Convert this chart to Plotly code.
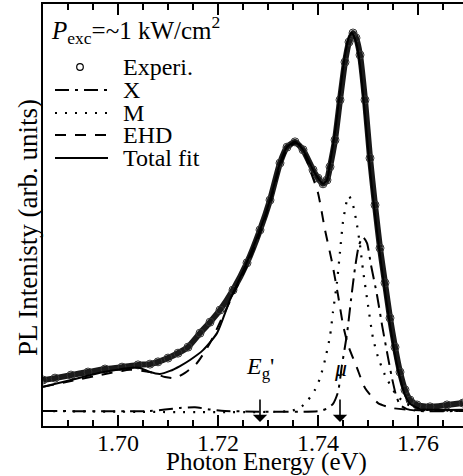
import plotly.graph_objects as go

# ---- data (energy in eV, intensity normalised to main peak) ----
exp_E = [1.6850, 1.6874, 1.6906, 1.6940, 1.6974, 1.7008, 1.7040, 1.7064, 1.7080, 1.7100,
         1.7120, 1.7140, 1.7164, 1.7184, 1.7204, 1.7230, 1.7258, 1.7284, 1.7304, 1.7324,
         1.7338, 1.7354, 1.7370, 1.7390, 1.7400, 1.7410, 1.7418, 1.7424, 1.7434, 1.7444,
         1.7454, 1.7462, 1.7470, 1.7476, 1.7484, 1.7494, 1.7504, 1.7514, 1.7524, 1.7534,
         1.7544, 1.7554, 1.7564, 1.7574, 1.7584, 1.7598, 1.7624, 1.7658, 1.7690]
exp_I = [0.082, 0.087, 0.095, 0.103, 0.111, 0.116, 0.122, 0.124, 0.130, 0.140,
         0.153, 0.169, 0.206, 0.235, 0.267, 0.320, 0.392, 0.479, 0.558, 0.656,
         0.698, 0.712, 0.691, 0.638, 0.616, 0.601, 0.611, 0.646, 0.717, 0.823,
         0.923, 0.976, 1.000, 0.987, 0.942, 0.823, 0.669, 0.545, 0.431, 0.339,
         0.246, 0.169, 0.103, 0.056, 0.029, 0.016, 0.011, 0.016, 0.021]

fit_E = [1.6850, 1.6906, 1.6964, 1.7024, 1.7044, 1.7064, 1.7084, 1.7104, 1.7124, 1.7144,
         1.7170, 1.7198, 1.7224, 1.7244, 1.7264, 1.7284, 1.7304, 1.7324, 1.7338, 1.7354,
         1.7370, 1.7390, 1.7400, 1.7410, 1.7418, 1.7424, 1.7434, 1.7444, 1.7454, 1.7462,
         1.7468, 1.7476, 1.7484, 1.7494, 1.7504, 1.7514, 1.7524, 1.7534, 1.7544, 1.7554,
         1.7564, 1.7574, 1.7584, 1.7604, 1.7644, 1.7690]
fit_I = [0.064, 0.082, 0.101, 0.114, 0.114, 0.103, 0.098, 0.106, 0.119, 0.135,
         0.161, 0.206, 0.294, 0.352, 0.413, 0.479, 0.558, 0.656, 0.698, 0.712,
         0.691, 0.638, 0.616, 0.601, 0.611, 0.656, 0.738, 0.844, 0.942, 0.989,
         1.000, 0.976, 0.915, 0.783, 0.638, 0.519, 0.413, 0.315, 0.228, 0.148,
         0.087, 0.042, 0.019, 0.005, 0.003, 0.003]

ehd_E = [1.6850, 1.6906, 1.6964, 1.7024, 1.7064, 1.7094, 1.7114, 1.7134, 1.7158, 1.7184,
         1.7204, 1.7230, 1.7258, 1.7284, 1.7304, 1.7324, 1.7338, 1.7354, 1.7364, 1.7374,
         1.7384, 1.7400, 1.7414, 1.7428, 1.7440, 1.7450, 1.7460, 1.7478, 1.7494, 1.7520,
         1.7548, 1.7584, 1.7690]
ehd_I = [0.064, 0.079, 0.095, 0.109, 0.103, 0.090, 0.087, 0.101, 0.127, 0.180,
         0.235, 0.307, 0.384, 0.471, 0.550, 0.648, 0.691, 0.709, 0.704, 0.677,
         0.638, 0.577, 0.479, 0.394, 0.307, 0.228, 0.175, 0.114, 0.061, 0.021,
         0.008, 0.003, 0.000]

m_E = [1.6850, 1.7344, 1.7364, 1.7380, 1.7394, 1.7404, 1.7414, 1.7424, 1.7430, 1.7438,
       1.7444, 1.7450, 1.7458, 1.7462, 1.7470, 1.7478, 1.7484, 1.7490, 1.7500, 1.7510,
       1.7520, 1.7534, 1.7554, 1.7574, 1.7604, 1.7690]
m_I = [0.000, 0.000, 0.008, 0.029, 0.056, 0.087, 0.135, 0.198, 0.262, 0.341,
       0.421, 0.500, 0.558, 0.569, 0.545, 0.492, 0.439, 0.373, 0.280, 0.193,
       0.143, 0.095, 0.048, 0.021, 0.005, 0.000]

x_E = [1.6850, 1.7064, 1.7094, 1.7124, 1.7154, 1.7184, 1.7214, 1.7404, 1.7420, 1.7430,
       1.7440, 1.7448, 1.7458, 1.7466, 1.7474, 1.7482, 1.7490, 1.7498, 1.7506, 1.7518,
       1.7528, 1.7538, 1.7548, 1.7556, 1.7564, 1.7578, 1.7604, 1.7690]
x_I = [0.000, 0.000, 0.004, 0.008, 0.010, 0.004, 0.000, 0.000, 0.008, 0.019,
       0.050, 0.122, 0.204, 0.294, 0.378, 0.439, 0.460, 0.444, 0.386, 0.307,
       0.228, 0.156, 0.087, 0.042, 0.016, 0.005, 0.000, 0.000]

x_ticks = [1.70, 1.72, 1.74, 1.76]
x_ticktext = ["1.70", "1.72", "1.74", "1.76"]
marks_E = [1.7284, 1.7444]          # E_g' and mu arrows
marks_text = ["<i>E</i><sub>g</sub>'", "<i>μ</i>"]
legend_labels = ["Experi.", "X", "M", "EHD", "Total fit"]
power_label = "<i>P</i><sub>exc</sub>=~1 kW/cm<sup>2</sup>"

FONT = "Liberation Serif"
X_RANGE = [1.685, 1.769]
Y_RANGE = [-0.0397, 1.0767]

fig = go.Figure()
fig.add_trace(go.Scatter(x=exp_E, y=exp_I, mode="lines+markers",
                         line=dict(color="#1a1a1a", width=6, shape="spline", smoothing=0.5),
                         marker=dict(symbol="circle-open", size=8, color="#333333", line=dict(width=1)),
                         showlegend=False))
fig.add_trace(go.Scatter(x=x_E, y=x_I, mode="lines", line=dict(color="black", width=2, dash="14px,6px,3px,6px", shape="spline", smoothing=0.6), showlegend=False))
fig.add_trace(go.Scatter(x=m_E, y=m_I, mode="lines", line=dict(color="black", width=2.2, dash="2px,8px", shape="spline", smoothing=0.6), showlegend=False))
fig.add_trace(go.Scatter(x=ehd_E, y=ehd_I, mode="lines", line=dict(color="black", width=2, dash="11px,9px", shape="spline", smoothing=0.6), showlegend=False))
fig.add_trace(go.Scatter(x=fit_E, y=fit_I, mode="lines", line=dict(color="black", width=2, shape="spline", smoothing=0.6), showlegend=False))

W, H = 463, 476
L, R, T, B = 43, 0, 4, 50
pw, ph = W - L - R, H - T - B

def px(xp):
    return (xp - L) / pw

def py(yp):
    return (H - B - yp) / ph

annotations = []
# axis titles
annotations.append(dict(text="Photon Energy (eV)", xref="paper", yref="paper", x=px(266), y=py(462),
                        showarrow=False, font=dict(family=FONT, size=25, color="black"), xanchor="center", yanchor="middle"))
annotations.append(dict(text="PL Intenisty (arb. units)", xref="paper", yref="paper", x=px(28), y=py(228),
                        showarrow=False, textangle=-90, font=dict(family=FONT, size=27, color="black"),
                        xanchor="center", yanchor="middle"))
# legend block
annotations.append(dict(text=power_label, xref="paper", yref="paper", x=px(49), y=py(30), showarrow=False,
                        font=dict(family=FONT, size=25, color="black"), xanchor="left", yanchor="middle"))
leg_y = [67, 90, 113, 135, 158]
for lab, yy in zip(legend_labels, leg_y):
    annotations.append(dict(text=lab, xref="paper", yref="paper", x=px(121), y=py(yy), showarrow=False,
                            font=dict(family=FONT, size=24, color="black"), xanchor="left", yanchor="middle"))
# arrows and their labels
for e in marks_E:
    annotations.append(dict(x=e, y=-0.029, xref="x", yref="y", ax=0, ay=-37, showarrow=True, text=" ",
                            arrowhead=1, arrowsize=1.5, arrowwidth=1.6, arrowcolor="black"))
annotations.append(dict(text=marks_text[0], x=marks_E[0], y=py(368), xref="x", yref="paper", showarrow=False,
                        font=dict(family=FONT, size=24, color="black"), xanchor="center", yanchor="middle"))
annotations.append(dict(text=marks_text[1], x=marks_E[1], y=py(368), xref="x", yref="paper", showarrow=False,
                        font=dict(family=FONT, size=24, color="black"), xanchor="center", yanchor="middle"))

shapes = []
dashes = ["14px,6px,3px,6px", "2px,8px", "11px,9px", "solid"]
for d, yy in zip(dashes, leg_y[1:]):
    shapes.append(dict(type="line", xref="paper", yref="paper", x0=px(55), x1=px(108), y0=py(yy), y1=py(yy),
                       line=dict(color="black", width=2 if d != "2px,8px" else 2.2, dash=d)))
r = 3.3
shapes.append(dict(type="circle", xref="paper", yref="paper", x0=px(80 - r), x1=px(80 + r),
                   y0=py(67 + r), y1=py(67 - r), line=dict(color="black", width=1.2)))

fig.update_layout(
    width=W, height=H, margin=dict(l=L, r=R, t=T, b=B, pad=0),
    paper_bgcolor="white", plot_bgcolor="white",
    font=dict(family=FONT, size=24, color="black"),
    annotations=annotations, shapes=shapes, showlegend=False,
    xaxis=dict(range=X_RANGE, showline=True, linewidth=2, linecolor="black", mirror="ticks",
               tickvals=x_ticks, ticktext=x_ticktext, ticks="inside", ticklen=11, tickwidth=2,
               tickcolor="black", showgrid=False, zeroline=False, tickfont=dict(family=FONT, size=24),
               ticklabelstandoff=-6,
               minor=dict(dtick=0.005, tick0=1.70, ticks="inside", ticklen=6, tickwidth=1.5, tickcolor="black", showgrid=False)),
    yaxis=dict(range=Y_RANGE, showline=True, linewidth=2, linecolor="black", mirror=False,
               tickvals=[0], ticks="inside", ticklen=10, tickwidth=1.5, tickcolor="black",
               showticklabels=False, showgrid=False, zeroline=False),
)

fig.write_html("out.html", config={"displayModeBar": False, "staticPlot": True},
               post_script="document.body.style.margin='0';document.body.style.overflow='hidden';")
